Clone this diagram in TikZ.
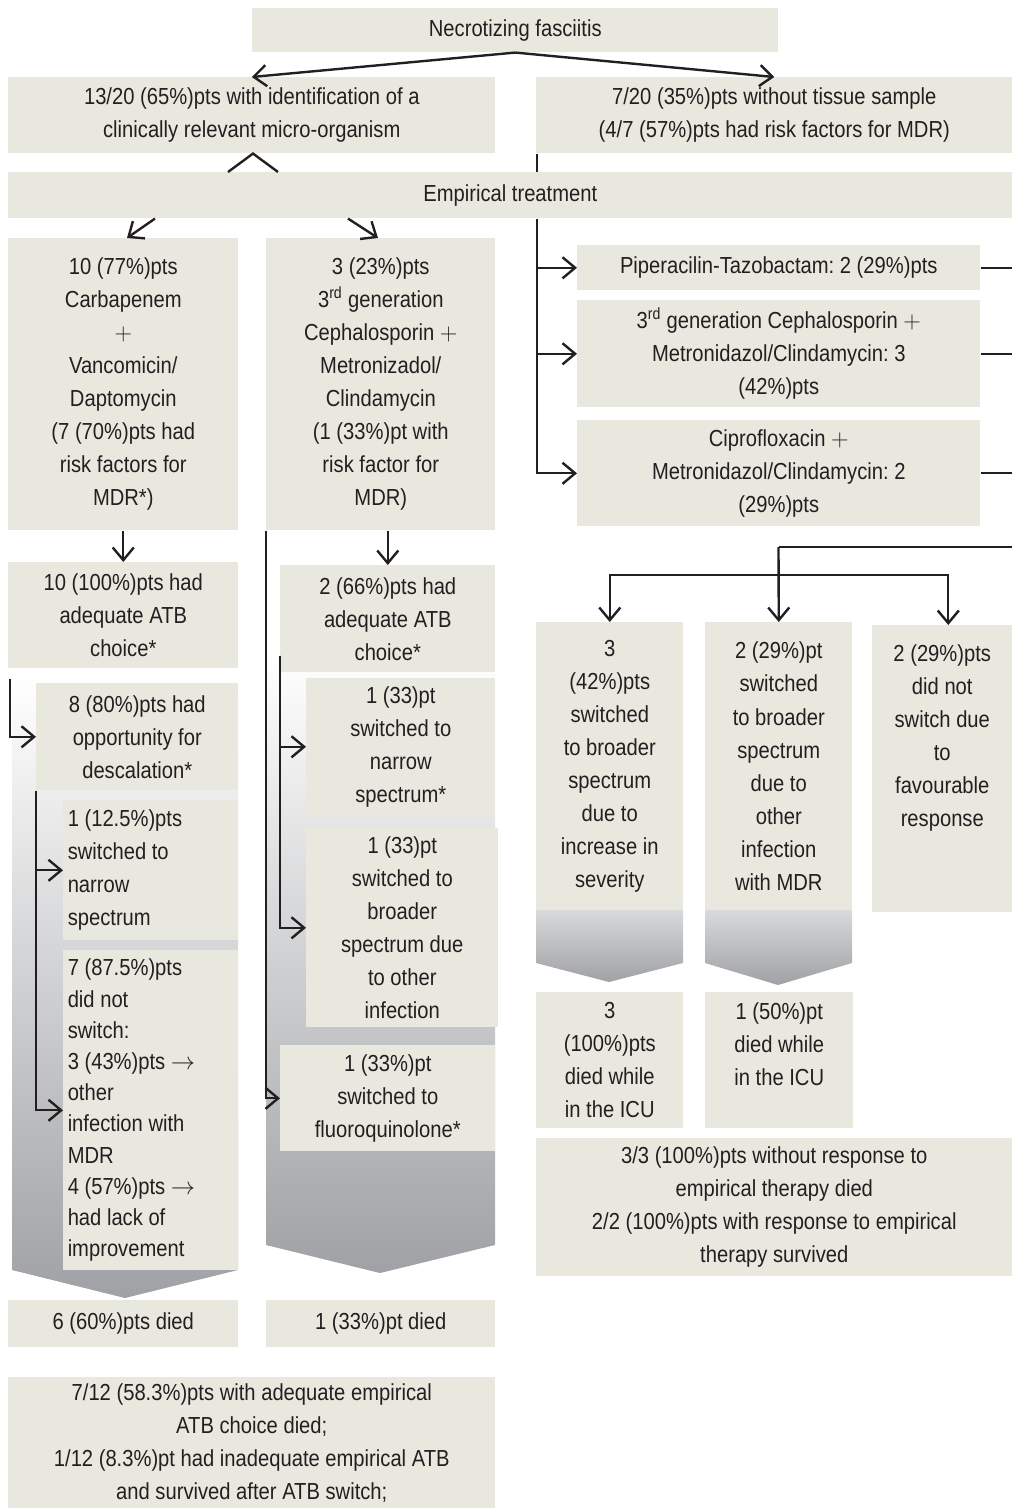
\documentclass[tikz,border=0pt]{standalone}
\usepackage{fontspec}
\setmainfont{Liberation Sans}[FakeStretch=0.87]
\usetikzlibrary{arrows.meta,calc}
\frenchspacing
\definecolor{boxfill}{HTML}{E8E8DF}
\definecolor{ink}{HTML}{231F20}
\definecolor{funnelgrey}{HTML}{9FA1A4}
\tikzset{
  box/.style={fill=boxfill, inner sep=0pt, align=center, text=ink, anchor=north west,
    font=\fontsize{16.5pt}{23.5pt}\selectfont},
  leftbox/.style={box, align=flush left, text width=4.15cm},
  wh/.style 2 args={minimum width=#1*0.025cm, minimum height=#2*0.025cm},
  wire/.style={draw=ink, line width=1.7pt},
  link/.style={wire, -{Straight Barb[length=9pt,width=15pt]}},
  funnel/.style={top color=white, bottom color=funnelgrey},
  stubfunnel/.style={top color=funnelgrey!40, bottom color=funnelgrey},
}
\begin{document}
\begin{tikzpicture}[x=0.025cm,y=-0.025cm]
\useasboundingbox (0,0) rectangle (1012,1508);

% grey funnels behind the columns
\path[funnel] (12,676) -- (238,676) -- (238,1270) -- (125,1298) -- (12,1270) -- cycle;
\path[funnel] (266,655) -- (495,655) -- (495,1245) -- (380,1273) -- (266,1245) -- cycle;
\path[stubfunnel] (536,910) -- (683,910) -- (683,963) -- (609,982) -- (536,963) -- cycle;
\path[stubfunnel] (705,910) -- (852,910) -- (852,963) -- (778,985) -- (705,963) -- cycle;

% top
\node[box, wh={526}{44}] (nf) at (252,8) {Necrotizing fasciitis};
\node[box, wh={487}{76}] (ident) at (8,77) {13/20 (65\%)pts with identification of a\\clinically relevant micro-organism};
\node[box, wh={476}{76}] (notis) at (536,77) {7/20 (35\%)pts without tissue sample\\(4/7 (57\%)pts had risk factors for MDR)};
\node[box, wh={1004}{46}] (emp) at (8,172) {Empirical treatment};

% left columns
\node[box, wh={230}{292}] (carb) at (8,238) {10 (77\%)pts\\Carbapenem\\$+$\\Vancomicin/\\Daptomycin\\(7 (70\%)pts had\\risk factors for\\MDR*)};
\node[box, wh={229}{292}] (ceph) at (266,238) {3 (23\%)pts\\3\textsuperscript{rd} generation\\Cephalosporin $+$\\Metronizadol/\\Clindamycin\\(1 (33\%)pt with\\risk factor for\\MDR)};
\node[box, wh={230}{106}] (adeqA) at (8,562) {10 (100\%)pts had\\adequate ATB\\choice*};
\node[box, wh={215}{107}] (adeqB) at (280,565) {2 (66\%)pts had\\adequate ATB\\choice*};
\node[box, wh={202}{107}] (desc) at (36,683) {8 (80\%)pts had\\opportunity for\\descalation*};
\node[leftbox, wh={175}{140}] (narrA) at (63,800) {1 (12.5\%)pts\\switched to\\narrow\\spectrum};
\node[leftbox, wh={175}{320}, font=\fontsize{16.5pt}{22.2pt}\selectfont] (noswitch) at (63,950) {7 (87.5\%)pts\\did not\\switch:\\3 (43\%)pts $\rightarrow$\\other\\infection with\\MDR\\4 (57\%)pts $\rightarrow$\\had lack of\\improvement};
\node[box, wh={189}{137}] (narrB) at (306,678) {1 (33)pt\\switched to\\narrow\\spectrum*};
\node[box, wh={192}{199}] (broadB) at (306,828) {1 (33)pt\\switched to\\broader\\spectrum due\\to other\\infection};
\node[box, wh={215}{106}] (fluoro) at (280,1045) {1 (33\%)pt\\switched to\\fluoroquinolone*};
\node[box, wh={230}{47}] (diedA) at (8,1300) {6 (60\%)pts died};
\node[box, wh={229}{47}] (diedB) at (266,1300) {1 (33\%)pt died};
\node[box, wh={487}{131}] (summA) at (8,1377) {7/12 (58.3\%)pts with adequate empirical\\ATB choice died;\\1/12 (8.3\%)pt had inadequate empirical ATB\\and survived after ATB switch;};

% right side
\node[box, wh={403}{45}] (pip) at (577,245) {Piperacilin-Tazobactam: 2 (29\%)pts};
\node[box, wh={403}{107}] (cephR) at (577,300) {3\textsuperscript{rd} generation Cephalosporin $+$\\Metronidazol/Clindamycin: 3\\(42\%)pts};
\node[box, wh={403}{106}] (cipro) at (577,420) {Ciprofloxacin $+$\\Metronidazol/Clindamycin: 2\\(29\%)pts};
\node[box, wh={147}{288}] (severe) at (536,622) {3\\(42\%)pts\\switched\\to broader\\spectrum\\due to\\increase in\\severity};
\node[box, wh={147}{288}] (otherR) at (705,622) {2 (29\%)pt\\switched\\to broader\\spectrum\\due to\\other\\infection\\with MDR};
\node[box, wh={140}{287}] (favour) at (872,625) {2 (29\%)pts\\did not\\switch due\\to\\favourable\\response\\~\\~};
\node[box, wh={147}{136}] (icuA) at (536,992) {3\\(100\%)pts\\died while\\in the ICU};
\node[box, wh={148}{136}] (icuB) at (705,992) {1 (50\%)pt\\died while\\in the ICU\\~};
\node[box, wh={476}{138}] (summR) at (536,1138) {3/3 (100\%)pts without response to\\empirical therapy died\\2/2 (100\%)pts with response to empirical\\therapy survived};

% connectors
\draw[link] (nf.south) -- (ident.north);
\draw[link] (nf.south) -- (notis.north);
\draw[wire] (emp.north -| 228,0) -- (ident.south -| 253,0) -- (emp.north -| 278,0);
\draw[wire] (notis.south -| 537,0) -- (emp.north -| 537,0);
\draw[link] (emp.south -| 155,0) -- (carb.north -| 127,0);
\draw[link] (emp.south -| 348,0) -- (ceph.north -| 378,0);

\draw[link] (emp.south -| 537,0) |- (cipro.west);
\draw[link] (pip.west -| 537,0) -- (pip.west);
\draw[link] (cephR.west -| 537,0) -- (cephR.west);
\foreach \n in {pip,cephR,cipro}
  \draw[wire] (\n.east) -- (\n.east -| 1012,0);

\coordinate (rtop) at (778.5,547);
\draw[wire] (rtop) -- (rtop -| 1012,0);
\draw[link] (rtop) -- (otherR.north);
\draw[link] (otherR.north |- 0,575) -| (severe.north);
\draw[link] (otherR.north |- 0,575) -| ($(favour.north)+(6,0)$);

\draw[link] (carb.south) -- (adeqA.north);
\draw[link] (ceph.south -| adeqB.north) -- (adeqB.north);
\draw[link] ($(adeqA.south west)+(2,10)$) |- (desc.west);
\draw[link] (desc.south west) |- (narrA.west);
\draw[link] (desc.south west) |- (noswitch.west);
\draw[link] ($(adeqB.south west)+(0,-17)$) |- (narrB.west);
\draw[link] ($(adeqB.south west)+(0,-17)$) |- (broadB.west);
\draw[link] (ceph.south west) |- (fluoro.west);
\end{tikzpicture}
\end{document}
